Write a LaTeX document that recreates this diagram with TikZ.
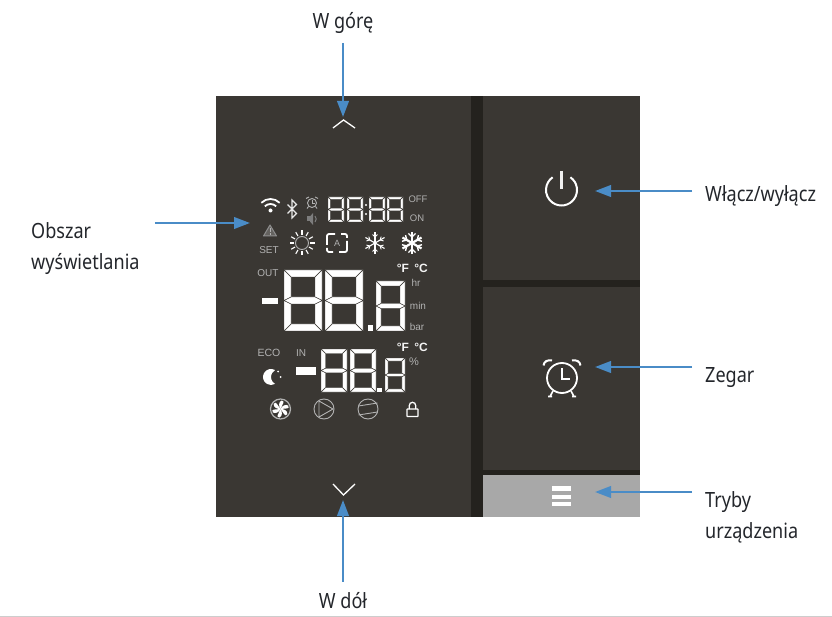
\documentclass[tikz,border=0pt]{standalone}
\usepackage{fontspec}
\setmainfont[FakeStretch=0.86]{Noto Sans}
\newfontfamily\lcdfont{Liberation Sans}
\usetikzlibrary{arrows.meta, calc}
\definecolor{panelgray}{RGB}{58,55,51}
\definecolor{groovegray}{RGB}{36,34,30}
\definecolor{bargray}{RGB}{168,168,168}
\definecolor{lcdgray}{RGB}{178,178,178}
\definecolor{labelink}{RGB}{35,38,43}
\definecolor{arrowblue}{RGB}{74,140,199}
\definecolor{edgegray}{RGB}{205,205,205}

%% one seven-segment digit: x, y, width, height, thickness
\newcommand{\segdigit}[5]{%
  \pgfmathsetmacro{\xa}{#1}\pgfmathsetmacro{\xb}{#1+#5}%
  \pgfmathsetmacro{\xc}{#1+#3-#5}\pgfmathsetmacro{\xd}{#1+#3}%
  \pgfmathsetmacro{\ya}{#2}\pgfmathsetmacro{\yb}{#2+#5}%
  \pgfmathsetmacro{\yc}{#2+#4/2-#5/2}\pgfmathsetmacro{\ym}{#2+#4/2}%
  \pgfmathsetmacro{\yd}{#2+#4/2+#5/2}%
  \pgfmathsetmacro{\ye}{#2+#4-#5}\pgfmathsetmacro{\yf}{#2+#4}%
  \draw[seg] (\xa,\ya) -- (\xd,\ya) -- (\xc,\yb) -- (\xb,\yb) -- cycle;
  \draw[seg] (\xa,\yf) -- (\xd,\yf) -- (\xc,\ye) -- (\xb,\ye) -- cycle;
  \draw[seg] (\xa,\ya) -- (\xb,\yb) -- (\xb,\yc) -- (\xa,\ym) -- cycle;
  \draw[seg] (\xd,\ya) -- (\xc,\yb) -- (\xc,\yc) -- (\xd,\ym) -- cycle;
  \draw[seg] (\xa,\yf) -- (\xb,\ye) -- (\xb,\yd) -- (\xa,\ym) -- cycle;
  \draw[seg] (\xd,\yf) -- (\xc,\ye) -- (\xc,\yd) -- (\xd,\ym) -- cycle;
  \draw[seg] (\xa,\ym) -- (\xb,\yc) -- (\xc,\yc) -- (\xd,\ym) -- (\xc,\yd) -- (\xb,\yd) -- cycle;
}

\begin{document}
\begin{tikzpicture}[x=1pt, y=-1pt, >=Stealth,
  seg/.style={fill=white, draw=panelgray, line width=0.45pt},
  callout/.style={text=labelink, inner sep=0pt, align=left, font=\fontsize{21}{31}\selectfont},
  pointer/.style={arrowblue, line width=2.3pt, -{Stealth[length=16pt, width=11.5pt, inset=0pt]}},
  lcdtext/.style={text=lcdgray, inner sep=0pt, font=\lcdfont\fontsize{10}{10}\selectfont},
  lcdunit/.style={text=white!85!lcdgray, inner sep=0pt, font=\lcdfont\bfseries\fontsize{12}{12}\selectfont},
  thinglyph/.style={draw=lcdgray, line width=0.9pt},
  iconat/.style={shift={#1}, x=1pt, y=1pt}]
\useasboundingbox (0,0) rectangle (832,617);

%% panel
\fill[panelgray] (216,96) rectangle (640,517);
\fill[groovegray] (471,96) rectangle (483,517);
\fill[groovegray] (483,280) rectangle (640,287);
\fill[groovegray] (483,470) rectangle (640,475);
\fill[bargray] (483,475) rectangle (640,517);
\draw[edgegray, line width=1pt] (0,616) -- (832,616);

%% clock row
\segdigit{328}{197}{16}{25}{2.6}
\segdigit{347}{197}{16}{25}{2.6}
\segdigit{369}{197}{16}{25}{2.6}
\segdigit{387}{197}{16}{25}{2.6}
\fill[white] (366,205) circle (1.2) (366,214) circle (1.2);

%% outside reading
\fill[white] (262,298) rectangle (278,304);
\segdigit{284}{270}{38}{61}{7}
\segdigit{325}{270}{38}{61}{7}
\segdigit{376}{281}{29}{50}{5}
\fill[white] (368,325) rectangle (373,331);

%% inside reading
\fill[white] (296,367) rectangle (316,375);
\segdigit{321}{349}{26}{43}{4.5}
\segdigit{350}{349}{26}{43}{4.5}
\segdigit{385}{358}{20}{34}{3.2}
\fill[white] (377,388) rectangle (382,392);

%% indicator texts
\node[lcdtext, font=\lcdfont\fontsize{9.5}{10}\selectfont] (offTxt) at (418,199) {OFF};
\node[lcdtext, font=\lcdfont\fontsize{9.5}{10}\selectfont] (onTxt)  at (417,218) {ON};
\node[lcdtext] (setTxt) at (269,250) {SET};
\node[lcdtext] (outTxt) at (268,273) {OUT};
\node[lcdunit] (fTxtA) at (403,268) {°F};
\node[lcdunit] (cTxtA) at (421,268) {°C};
\node[lcdtext] (hrTxt)  at (416,283) {hr};
\node[lcdtext] (minTxt) at (418,306) {min};
\node[lcdtext] (barTxt) at (417,327) {bar};
\node[lcdtext, font=\lcdfont\fontsize{10.5}{10}\selectfont] (ecoTxt) at (269,353) {ECO};
\node[lcdtext] (inTxt)  at (301,353) {IN};
\node[lcdunit] (fTxtB) at (403,347) {°F};
\node[lcdunit] (cTxtB) at (421,347) {°C};
\node[lcdtext, font=\lcdfont\fontsize{11}{11}\selectfont] (pctTxt) at (414,362) {\%};

%% chevrons
\draw[white, line width=1.3pt] (333,128) -- (343.5,120) -- (355,128);
\draw[white, line width=1.3pt] (333,484) -- (343.5,495) -- (355,484);

%% power
\begin{scope}[iconat={(561.5,190)}]
  \draw[white, line width=2pt] (55:15.5) arc[start angle=55, end angle=-235, radius=15.5];
  \draw[white!80!lcdgray, line width=2.4pt] (0,19) -- (0,1);
\end{scope}

%% alarm clock
\begin{scope}[iconat={(562,378)}]
  \draw[white, line width=1.8pt] (0,0) circle (15);
  \draw[white, line width=1.8pt] (0,10) -- (0,-1) -- (8,-1);
  \draw[white, line width=2pt] (-18.5,12.5) .. controls (-18,16.5) and (-14.5,18.5) .. (-10,17.5);
  \draw[white, line width=2pt] (18.5,12.5) .. controls (18,16.5) and (14.5,18.5) .. (10,17.5);
  \draw[white, line width=1.6pt] (-9,-13) -- (-12,-18.5) (-14,-18.5) -- (-10,-18.5);
  \draw[white, line width=1.6pt] (9,-13) -- (12,-18.5) (14,-18.5) -- (10,-18.5);
\end{scope}

%% menu
\fill[white] (552,486) rectangle (571,491);
\fill[white] (552,495) rectangle (571,499);
\fill[white] (552,502) rectangle (571,506);

%% wifi
\begin{scope}[iconat={(270.5,212)}]
  \draw[white, line width=1.8pt] (45:13) arc[start angle=45, end angle=135, radius=13];
  \draw[white, line width=1.8pt] (45:8) arc[start angle=45, end angle=135, radius=8];
  \fill[white] (0,1.5) circle (2);
\end{scope}

%% bluetooth
\begin{scope}[iconat={(292,209)}]
  \draw[white!70!lcdgray, line width=1.2pt] (-4.5,-4.5) -- (4.5,4.5) -- (0,9) -- (0,-9) -- (4.5,-4.5) -- (-4.5,4.5);
\end{scope}

%% small alarm and speaker
\begin{scope}[iconat={(312,203)}]
  \draw[thinglyph] (0,0) circle (4.5);
  \draw[thinglyph] (0,3) -- (0,0) -- (2.5,0);
  \draw[thinglyph] (-6,4.5) -- (-3,6) (6,4.5) -- (3,6) (-3.5,-3.5) -- (-5,-5.5) (3.5,-3.5) -- (5,-5.5);
\end{scope}
\begin{scope}[iconat={(312,219)}]
  \fill[lcdgray!70!black] (-5,-2.5) rectangle (-2,2.5);
  \fill[lcdgray!70!black] (-2,-2.5) -- (1,-6) -- (1,6) -- (-2,2.5) -- cycle;
  \draw[lcdgray!70!black, line width=1pt] (3,-3) arc[start angle=-45, end angle=45, radius=4.2];
\end{scope}

%% warning
\begin{scope}[iconat={(270,231)}]
  \draw[lcdgray!80!black, fill=lcdgray!35!panelgray, line width=1pt, line join=round] (-6.5,-5) -- (0,6) -- (6.5,-5) -- cycle;
  \draw[lcdgray, line width=1pt] (0,3) -- (0,-1.5) (0,-2.5) -- (0,-3.6);
\end{scope}

%% sun
\begin{scope}[iconat={(302,243)}]
  \draw[lcdgray, line width=0.9pt] (0,0) circle (6.5);
  \foreach \ang in {0,30,...,330}
    \draw[white, line width=1.1pt] (\ang:8) -- (\ang:12.5);
\end{scope}

%% auto mode
\begin{scope}[iconat={(337,243)}]
  \draw[white, line width=1.8pt, rounded corners=2pt] (-2,9) -- (-10,9) -- (-10,-2);
  \draw[white, line width=1.8pt, rounded corners=2pt] (2,-9) -- (10,-9) -- (10,2);
  \draw[white, line width=1.8pt, rounded corners=2pt] (4,9) -- (10,9) -- (10,5);
  \draw[white, line width=1.8pt, rounded corners=2pt] (-4,-9) -- (-10,-9) -- (-10,-5);
  \node[lcdtext, font=\lcdfont\fontsize{9}{9}\selectfont] (autoTxt) at (0,0) {A};
\end{scope}

%% snowflake
\begin{scope}[iconat={(375,243)}]
  \foreach \ang in {30,90,...,330} {
    \draw[white, line width=1.1pt] (0,0) -- (\ang:11);
    \draw[white, line width=0.9pt] (\ang:6) -- ++(\ang+45:3.5) (\ang:6) -- ++(\ang-45:3.5);
  }
\end{scope}
\begin{scope}[iconat={(412,243)}]
  \foreach \ang in {30,90,...,330} {
    \draw[white, line width=2.2pt] (0,0) -- (\ang:11);
    \draw[white, line width=1.4pt] (\ang:6) -- ++(\ang+45:5) (\ang:6) -- ++(\ang-45:5);
  }
\end{scope}

%% moon
\begin{scope}[iconat={(271,377)}]
  \fill[white] (4,6.93) arc[start angle=60, end angle=300, radius=8]
    arc[start angle=240, end angle=120, radius=8] -- cycle;
  \fill[white] (7,5.5) circle (1) (9.5,0) circle (1);
\end{scope}

%% fan
\begin{scope}[iconat={(280.5,409)}]
  \draw[lcdgray, line width=1.2pt] (0,0) circle (10);
  \foreach \ang in {0,60,...,300}
    \fill[white, rotate=\ang] (0,0) .. controls (2,5) and (5,8) .. (1,8.5) .. controls (-2,7) and (-2,3) .. (0,0);
\end{scope}

%% pump
\begin{scope}[iconat={(324,409)}]
  \draw[lcdgray, line width=0.9pt] (0,0) circle (10);
  \draw[lcdgray, line width=0.9pt, line join=round] (-5,8) -- (9,0) -- (-5,-8) -- cycle;
\end{scope}

%% compressor
\begin{scope}[iconat={(368,409)}]
  \draw[lcdgray, line width=0.9pt] (0,0) circle (10);
  \draw[lcdgray, line width=0.9pt] (-9.5,3) -- (9.5,6) (-9.5,-6) -- (9.5,-3);
\end{scope}

%% lock
\begin{scope}[iconat={(412.5,409)}]
  \draw[white, line width=1.3pt, rounded corners=0.5pt] (-5.5,-7.5) rectangle (5.5,0);
  \draw[white, line width=1.3pt] (-3.2,0) -- (-3.2,3.5) arc[start angle=180, end angle=0, radius=3.2] -- (3.2,0);
\end{scope}

%% labels
\node[callout] (upLbl)    at (343,23)  {W górę};
\node[callout] (downLbl)  at (343,601) {W dół};
\node[callout, anchor=north west] (areaLbl) at (31,222) {Obszar\\wyświetlania};
\node[callout, anchor=west] (powerLbl) at (705,196) {Włącz/wyłącz};
\node[callout, anchor=west] (clockLbl) at (705,378) {Zegar};
\node[callout, anchor=north west] (modeLbl) at (705,491) {Tryby\\urządzenia};

%% pointers
\coordinate (upTip) at (343,117);
\coordinate (downTip) at (343,500);
\coordinate (areaTip) at (250,223);
\coordinate (powerTip) at (595,191);
\coordinate (clockTip) at (595,367);
\coordinate (modeTip) at (595,492);
\draw[pointer, shorten <=9pt] (upLbl.south) -- (upTip);
\draw[pointer, shorten <=11pt] (downLbl.north) -- (downTip);
\draw[pointer, shorten <=15pt] (areaLbl.east |- areaTip) -- (areaTip);
\draw[pointer, shorten <=13pt] (powerLbl.west |- powerTip) -- (powerTip);
\draw[pointer, shorten <=13pt] (clockLbl.west |- clockTip) -- (clockTip);
\draw[pointer, shorten <=13pt] (modeLbl.west |- modeTip) -- (modeTip);
\end{tikzpicture}
\end{document}
